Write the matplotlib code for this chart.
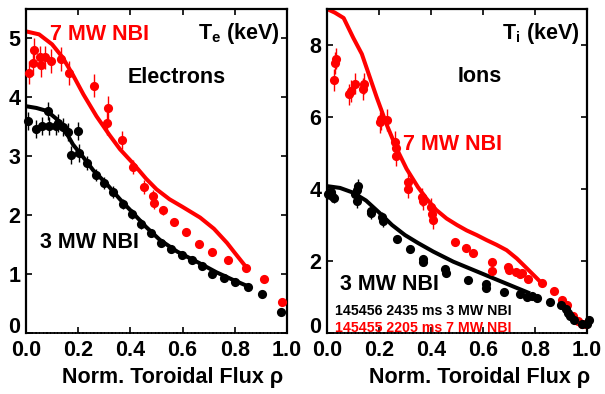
import matplotlib
matplotlib.use("Agg")
import matplotlib.pyplot as plt
from matplotlib import font_manager
import numpy as np


def pick_font(names):
    for n in names:
        try:
            font_manager.findfont(font_manager.FontProperties(family=n),
                                  fallback_to_default=False)
            return n
        except ValueError:
            pass
    return "DejaVu Sans"


BIG_FONT = pick_font(["Liberation Sans Narrow", "Liberation Sans"])
SMALL_FONT = pick_font(["Liberation Sans"])
NARROW = BIG_FONT == "Liberation Sans Narrow"
FS = 17 if NARROW else 15.5

plt.rcParams["font.family"] = [BIG_FONT, "DejaVu Sans"]
plt.rcParams["font.weight"] = "bold"

RED = "#ff0000"
BLACK = "#000000"

# ---------------- Electron temperature ----------------
te7_rho = [0.013, 0.026, 0.032, 0.054, 0.059, 0.074, 0.096, 0.133, 0.165, 0.259,
           0.314, 0.310, 0.367, 0.409, 0.451, 0.488, 0.490, 0.526, 0.568, 0.613,
           0.662, 0.713, 0.773, 0.842, 0.913, 0.982]
te7_val = [4.42, 4.58, 4.81, 4.68, 4.55, 4.68, 4.62, 4.65, 4.41, 4.20,
           3.82, 3.56, 3.28, 2.82, 2.48, 2.33, 2.21, 2.08, 1.89, 1.71,
           1.51, 1.37, 1.24, 1.11, 0.92, 0.53]
te7_err = [0.2, 0.2, 0.2, 0.2, 0.2, 0.2, 0.2, 0.2, 0.2, 0.2,
           0.2, 0.2, 0.15, 0.12, 0.12, 0.1, 0.1, 0.07, 0.05, 0.05,
           0.03, 0.03, 0.03, 0.03, 0.0, 0.0]

te3_rho = [0.009, 0.037, 0.062, 0.083, 0.088, 0.115, 0.124, 0.143, 0.162, 0.198,
           0.171, 0.204, 0.235, 0.268, 0.300, 0.335, 0.370, 0.405, 0.440, 0.478,
           0.517, 0.556, 0.596, 0.635, 0.673, 0.714, 0.759, 0.802, 0.852, 0.905,
           0.977]
te3_val = [3.60, 3.46, 3.51, 3.77, 3.51, 3.51, 3.56, 3.50, 3.41, 3.43,
           3.02, 3.05, 2.88, 2.68, 2.55, 2.40, 2.19, 2.02, 1.85, 1.69,
           1.52, 1.42, 1.32, 1.24, 1.14, 1.01, 0.94, 0.87, 0.78, 0.66,
           0.35]
te3_err = [0.15, 0.15, 0.15, 0.15, 0.15, 0.15, 0.15, 0.15, 0.15, 0.15,
           0.15, 0.15, 0.12, 0.1, 0.1, 0.1, 0.08, 0.08, 0.08, 0.06,
           0.05, 0.05, 0.04, 0.04, 0.04, 0.03, 0.03, 0.03, 0.0, 0.0,
           0.0]

te7_fit_rho = [0.0, 0.05, 0.1, 0.14, 0.18, 0.22, 0.27, 0.32, 0.36, 0.41, 0.46,
               0.5, 0.55, 0.6, 0.667, 0.72, 0.77, 0.8, 0.845]
te7_fit_val = [5.12, 5.07, 4.9, 4.68, 4.38, 4.05, 3.68, 3.36, 3.12, 2.88, 2.62,
               2.44, 2.27, 2.14, 1.96, 1.77, 1.53, 1.36, 1.11]

te3_fit_rho = [0.0, 0.04, 0.08, 0.118, 0.143, 0.18, 0.22, 0.258, 0.309, 0.36,
               0.405, 0.46, 0.513, 0.58, 0.667, 0.73, 0.794, 0.852]
te3_fit_val = [3.85, 3.82, 3.77, 3.63, 3.49, 3.2, 2.98, 2.76, 2.53, 2.27,
               2.06, 1.8, 1.58, 1.38, 1.18, 1.03, 0.9, 0.79]

# ---------------- Ion temperature ----------------
ti7_rho = [0.025, 0.029, 0.033, 0.086, 0.091, 0.108, 0.138, 0.143, 0.205, 0.208,
           0.230, 0.262, 0.265, 0.265, 0.313, 0.313, 0.365, 0.368, 0.399, 0.403,
           0.407, 0.492, 0.535, 0.563, 0.634, 0.634, 0.698, 0.700, 0.727, 0.742,
           0.749, 0.774, 0.828, 0.874, 0.904, 0.922, 0.945, 0.967, 0.982, 0.996]
ti7_val = [7.02, 7.50, 7.62, 6.63, 6.72, 6.93, 6.77, 6.93, 5.85, 5.94,
           5.92, 5.31, 5.13, 4.93, 4.19, 3.99, 3.78, 3.68, 3.50, 3.31,
           3.13, 2.52, 2.36, 2.23, 1.97, 1.71, 1.83, 1.75, 1.69, 1.63,
           1.68, 1.51, 1.38, 1.16, 0.92, 0.78, 0.46, 0.34, 0.25, 0.26]
ti7_err = [0.3, 0.3, 0.3, 0.3, 0.3, 0.3, 0.3, 0.3, 0.3, 0.3,
           0.3, 0.3, 0.3, 0.3, 0.25, 0.25, 0.25, 0.25, 0.25, 0.25,
           0.25, 0.1, 0.1, 0.1, 0.1, 0.1, 0.1, 0.1, 0.1, 0.1,
           0.1, 0.1, 0.05, 0.05, 0.05, 0.05, 0.05, 0.05, 0.05, 0.05]

ti3_rho = [0.003, 0.016, 0.021, 0.025, 0.109, 0.114, 0.119, 0.115, 0.168, 0.171,
           0.213, 0.217, 0.271, 0.321, 0.368, 0.371, 0.452, 0.456, 0.543, 0.612,
           0.612, 0.679, 0.742, 0.770, 0.789, 0.806, 0.857, 0.899, 0.918, 0.925,
           0.936, 0.950, 0.980, 1.000, 1.006]
ti3_val = [3.87, 3.91, 3.80, 3.76, 3.87, 3.96, 4.08, 3.68, 3.38, 3.32,
           3.22, 3.10, 2.60, 2.34, 2.05, 1.98, 1.78, 1.66, 1.47, 1.36,
           1.25, 1.13, 1.08, 1.00, 1.03, 0.96, 0.85, 0.77, 0.68, 0.55,
           0.46, 0.37, 0.25, 0.24, 0.37]
ti3_err = [0.15, 0.15, 0.15, 0.15, 0.2, 0.2, 0.2, 0.2, 0.15, 0.15,
           0.15, 0.15, 0.1, 0.1, 0.1, 0.1, 0.1, 0.1, 0.05, 0.05,
           0.05, 0.05, 0.05, 0.05, 0.05, 0.05, 0.03, 0.03, 0.03, 0.03,
           0.03, 0.03, 0.03, 0.03, 0.03]

ti7_fit_rho = [0.0, 0.03, 0.064, 0.101, 0.134, 0.153, 0.191, 0.23, 0.268, 0.306,
               0.35, 0.383, 0.42, 0.46, 0.5, 0.537, 0.576, 0.614, 0.652, 0.691,
               0.73, 0.768, 0.807, 0.826]
ti7_fit_val = [9.0, 8.9, 8.75, 8.2, 7.75, 7.35, 6.55, 5.78, 5.12, 4.56,
               4.05, 3.73, 3.42, 3.18, 3.0, 2.85, 2.72, 2.58, 2.45, 2.3,
               2.07, 1.8, 1.52, 1.38]

ti3_fit_rho = [0.0, 0.05, 0.1, 0.15, 0.2, 0.25, 0.3, 0.35, 0.409, 0.486,
               0.563, 0.64, 0.717, 0.781]
ti3_fit_val = [4.08, 4.03, 3.9, 3.68, 3.35, 3.0, 2.72, 2.5, 2.26, 1.98,
               1.75, 1.52, 1.29, 1.1]

x_ticks = [0.0, 0.2, 0.4, 0.6, 0.8, 1.0]
x_tick_labels = ["0.0", "0.2", "0.4", "0.6", "0.8", "1.0"]
te_ticks = [0, 1, 2, 3, 4, 5]
ti_ticks = [0, 2, 4, 6, 8]

fig = plt.figure(figsize=(6.05, 3.94), dpi=100)
ax_e = fig.add_axes([26 / 605, 61 / 394, 261 / 605, 324 / 394])
ax_i = fig.add_axes([327 / 605, 61 / 394, 260 / 605, 324 / 394])


def style_axes(ax, yticks, ylim, label_x):
    ax.set_xlim(0, 1.0)
    ax.set_ylim(*ylim)
    ax.set_xticks(x_ticks)
    ax.set_xticklabels(x_tick_labels)
    ax.set_yticks(yticks)
    ax.tick_params(direction="in", top=True, right=True, length=4.5, width=1.2,
                   labelsize=FS, pad=4)
    ax.tick_params(axis="x", pad=5)
    for lab in ax.get_xticklabels() + ax.get_yticklabels():
        lab.set_fontweight("bold")
    for side in ("left", "right", "top"):
        ax.spines[side].set_linewidth(1.6)
    ax.spines["bottom"].set_linewidth(1.3)
    ax.spines["bottom"].set_linestyle((0, (1.2, 0.8)))
    # lift the zero label clear of the x tick labels
    ax.get_yticklabels()[0].set_verticalalignment("baseline")
    ax.text(label_x, -0.105, "Norm. Toroidal Flux \u03c1",
            transform=ax.transAxes, ha="center", va="top", fontsize=FS,
            fontweight="bold")


def profile(ax, rho, val, err, fit_rho, fit_val, color):
    ax.plot(fit_rho, fit_val, color=color, lw=2.9, solid_capstyle="butt",
            solid_joinstyle="round", zorder=2)
    ax.errorbar(rho, val, yerr=err, fmt="o", color=color, ms=6.6, mew=0,
                elinewidth=1.0, capsize=0, zorder=3, clip_on=False)


profile(ax_e, te7_rho, te7_val, te7_err, te7_fit_rho, te7_fit_val, RED)
profile(ax_e, te3_rho, te3_val, te3_err, te3_fit_rho, te3_fit_val, BLACK)
style_axes(ax_e, te_ticks, (0, 5.5), 0.563)

profile(ax_i, ti7_rho, ti7_val, ti7_err, ti7_fit_rho, ti7_fit_val, RED)
profile(ax_i, ti3_rho, ti3_val, ti3_err, ti3_fit_rho, ti3_fit_val, BLACK)
style_axes(ax_i, ti_ticks, (0, 9.0), 0.588)

kw = dict(fontsize=FS, fontweight="bold", va="baseline")
ax_e.text(0.092, 0.904, "7 MW NBI", color=RED, transform=ax_e.transAxes, **kw)
ax_e.text(0.973, 0.906, r"$\mathregular{T_e}$ (keV)", color=BLACK,
          transform=ax_e.transAxes, ha="right", **kw)
ax_e.text(0.391, 0.772, "Electrons", color=BLACK, transform=ax_e.transAxes, **kw)
ax_e.text(0.054, 0.262, "3 MW NBI", color=BLACK, transform=ax_e.transAxes, **kw)

ax_i.text(0.973, 0.906, r"$\mathregular{T_i}$ (keV)", color=BLACK,
          transform=ax_i.transAxes, ha="right", **kw)
ax_i.text(0.504, 0.775, "Ions", color=BLACK, transform=ax_i.transAxes, **kw)
ax_i.text(0.292, 0.565, "7 MW NBI", color=RED, transform=ax_i.transAxes, **kw)
ax_i.text(0.050, 0.133, "3 MW NBI", color=BLACK, transform=ax_i.transAxes, **kw)

small = dict(fontsize=10.2, fontweight="bold", va="baseline",
             family=[SMALL_FONT, "DejaVu Sans"])
ax_i.text(0.031, 0.057, "145456 2435 ms 3 MW NBI", color=BLACK,
          transform=ax_i.transAxes, **small)
ax_i.text(0.031, 0.003, "145455 2205 ms 7 MW NBI", color=RED,
          transform=ax_i.transAxes, **small)

fig.savefig("out.png", dpi=100)
